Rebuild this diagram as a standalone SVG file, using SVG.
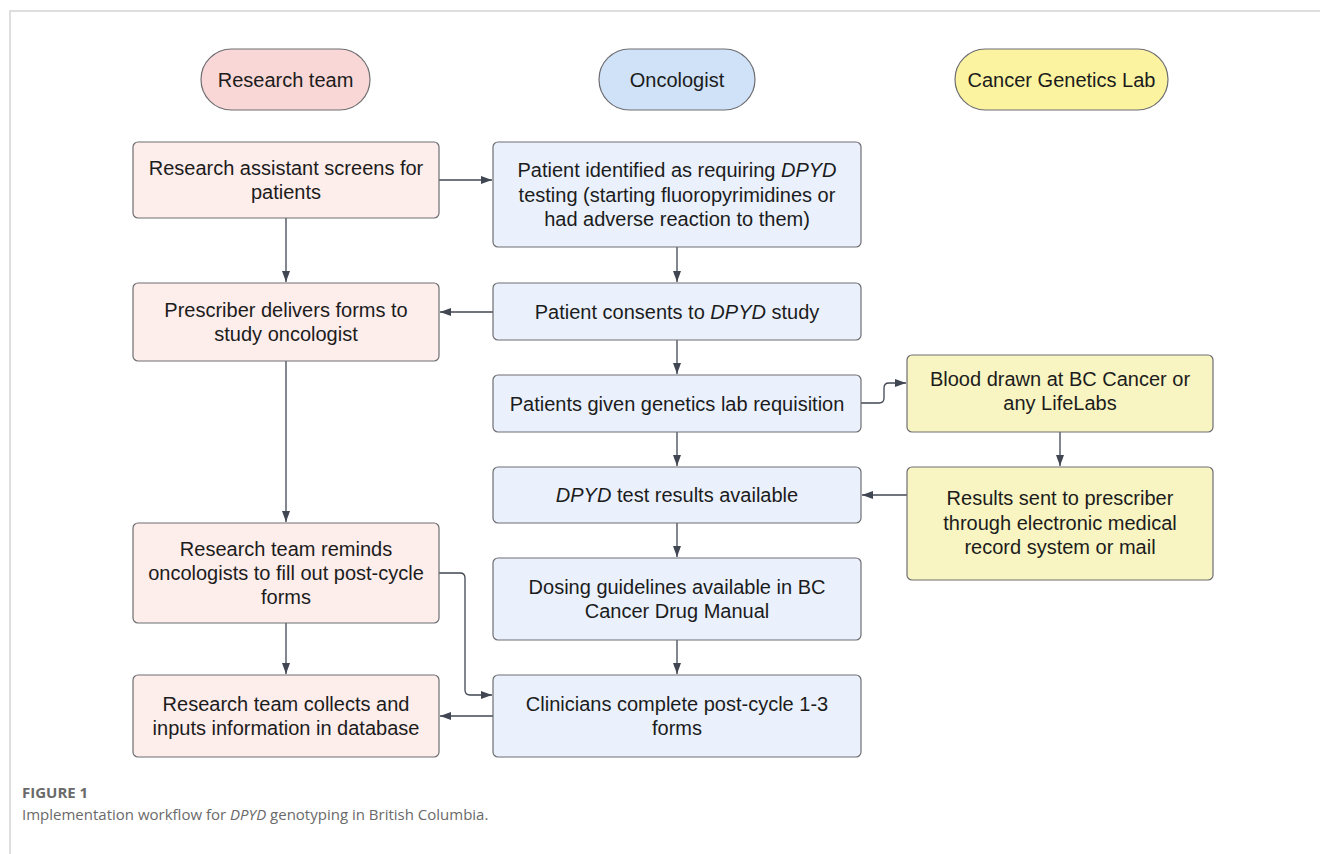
<svg xmlns="http://www.w3.org/2000/svg" width="1320" height="854" viewBox="0 0 1320 854">
<style>
  text { font-family: "Liberation Sans", Arial, sans-serif; font-size: 20px; fill: #1c1c1c; text-anchor: middle; }
  .box { stroke: #6e6e72; stroke-width: 1.2; }
  .pill { stroke: #6e6e72; stroke-width: 1.2; }
  .pinkbox { fill: #fdedeb; }
  .bluebox { fill: #eaf1fc; }
  .yelbox { fill: #f8f5c2; }
  .pinkpill { fill: #f8d7d6; }
  .bluepill { fill: #cfe2f8; }
  .yelpill { fill: #fbf3a0; }
  .conn { fill: none; stroke: #404652; stroke-width: 1.3; marker-end: url(#arrow); }
  .cap { font-family: "Open Sans", "Liberation Sans", sans-serif; text-anchor: start; fill: #6a6a6a; font-size: 15px; }
</style>
<defs>
  <marker id="arrow" markerUnits="userSpaceOnUse" markerWidth="12" markerHeight="10" refX="11" refY="5" orient="auto">
    <path d="M0,1 L11,5 L0,9 Z" fill="#404652"/>
  </marker>
</defs>
<rect x="0" y="0" width="1320" height="854" fill="#ffffff"/>
<path d="M10,854 V11 H1320" fill="none" stroke="#d4d4d4" stroke-width="1.5"/>

<g id="lane-research">
  <rect class="pill pinkpill" x="201" y="49" width="169" height="61" rx="30.5"/>
  <text x="285.5" y="86.5">Research team</text>
</g>
<g id="lane-oncologist">
  <rect class="pill bluepill" x="599" y="49" width="156" height="61" rx="30.5"/>
  <text x="677" y="86.5">Oncologist</text>
</g>
<g id="lane-lab">
  <rect class="pill yelpill" x="955" y="49" width="213" height="61" rx="30.5"/>
  <text x="1061.5" y="86.5">Cancer Genetics Lab</text>
</g>

<g id="connectors">
  <path class="conn" d="M439,180 H492"/>
  <path class="conn" d="M286,218 V282"/>
  <path class="conn" d="M677,247 V282"/>
  <path class="conn" d="M493,312 H440"/>
  <path class="conn" d="M677,340 V374"/>
  <path class="conn" d="M861,403 H879 Q884,403 884,398 V388 Q884,383 889,383 H906"/>
  <path class="conn" d="M677,432 V466"/>
  <path class="conn" d="M1060,432 V466"/>
  <path class="conn" d="M907,495 H862"/>
  <path class="conn" d="M677,523 V557"/>
  <path class="conn" d="M677,640 V674"/>
  <path class="conn" d="M286,361 V522"/>
  <path class="conn" d="M286,623 V674"/>
  <path class="conn" d="M439,573 H460 Q465,573 465,578 V690 Q465,695 470,695 H492"/>
  <path class="conn" d="M493,716 H440"/>
</g>

<g id="n-ra">
  <rect class="box pinkbox" x="133" y="142" width="306" height="76" rx="5"/>
  <text x="286" y="175">Research assistant screens for</text>
  <text x="286" y="199">patients</text>
</g>
<g id="n-pi">
  <rect class="box bluebox" x="493" y="142" width="368" height="105" rx="5"/>
  <text x="677" y="177">Patient identified as requiring <tspan font-style="italic">DPYD</tspan></text>
  <text x="677" y="201.5">testing (starting fluoropyrimidines or</text>
  <text x="677" y="226">had adverse reaction to them)</text>
</g>
<g id="n-prescriber">
  <rect class="box pinkbox" x="133" y="283" width="306" height="78" rx="5"/>
  <text x="286" y="317">Prescriber delivers forms to</text>
  <text x="286" y="341">study oncologist</text>
</g>
<g id="n-consent">
  <rect class="box bluebox" x="493" y="283" width="368" height="57" rx="5"/>
  <text x="677" y="318.5">Patient consents to <tspan font-style="italic">DPYD</tspan> study</text>
</g>
<g id="n-req">
  <rect class="box bluebox" x="493" y="375" width="368" height="57" rx="5"/>
  <text x="677" y="410.5">Patients given genetics lab requisition</text>
</g>
<g id="n-blood">
  <rect class="box yelbox" x="907" y="355" width="306" height="77" rx="5"/>
  <text x="1060" y="386">Blood drawn at BC Cancer or</text>
  <text x="1060" y="410">any LifeLabs</text>
</g>
<g id="n-results">
  <rect class="box yelbox" x="907" y="467" width="306" height="113" rx="5"/>
  <text x="1060" y="505">Results sent to prescriber</text>
  <text x="1060" y="529.5">through electronic medical</text>
  <text x="1060" y="554">record system or mail</text>
</g>
<g id="n-test">
  <rect class="box bluebox" x="493" y="467" width="368" height="56" rx="5"/>
  <text x="677" y="502"><tspan font-style="italic">DPYD</tspan> test results available</text>
</g>
<g id="n-dosing">
  <rect class="box bluebox" x="493" y="558" width="368" height="82" rx="5"/>
  <text x="677" y="594">Dosing guidelines available in BC</text>
  <text x="677" y="618">Cancer Drug Manual</text>
</g>
<g id="n-remind">
  <rect class="box pinkbox" x="133" y="523" width="306" height="100" rx="5"/>
  <text x="286" y="556">Research team reminds</text>
  <text x="286" y="580">oncologists to fill out post-cycle</text>
  <text x="286" y="604">forms</text>
</g>
<g id="n-collect">
  <rect class="box pinkbox" x="133" y="675" width="306" height="82" rx="5"/>
  <text x="286" y="711">Research team collects and</text>
  <text x="286" y="735">inputs information in database</text>
</g>
<g id="n-clin">
  <rect class="box bluebox" x="493" y="675" width="368" height="82" rx="5"/>
  <text x="677" y="711">Clinicians complete post-cycle 1-3</text>
  <text x="677" y="735">forms</text>
</g>

<g id="caption">
  <text class="cap" x="22" y="798" font-weight="bold" fill="#666666">FIGURE 1</text>
  <text class="cap" x="22" y="820">Implementation workflow for <tspan font-style="italic">DPYD</tspan> genotyping in British Columbia.</text>
</g>
</svg>
